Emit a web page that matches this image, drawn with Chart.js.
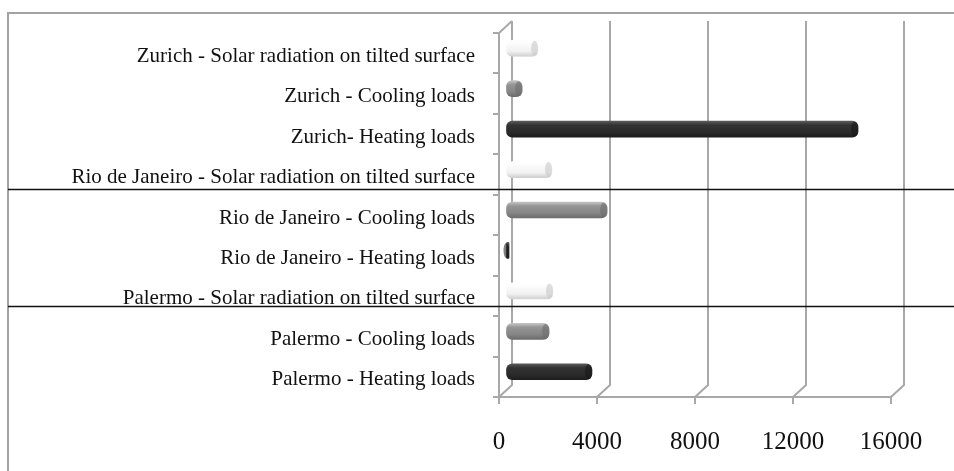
<!DOCTYPE html>
<html>
<head>
<meta charset="utf-8">
<script src="https://cdn.jsdelivr.net/npm/chart.js@4.4.0/dist/chart.umd.min.js"></script>
<style>
  html, body { margin: 0; padding: 0; background: #fff; }
  #wrap { width: 954px; height: 471px; position: relative; }
</style>
</head>
<body>
<div id="wrap"><canvas id="c" width="954" height="471"></canvas></div>
<script>
// Cities, listed top to bottom as they appear on the chart
const cities = ['Zurich', 'Rio de Janeiro', 'Palermo'];

// One label per bar, top to bottom
const categoryLabels = [
  'Zurich - Solar radiation on tilted surface',
  'Zurich - Cooling loads',
  'Zurich- Heating loads',
  'Rio de Janeiro - Solar radiation on tilted surface',
  'Rio de Janeiro - Cooling loads',
  'Rio de Janeiro - Heating loads',
  'Palermo - Solar radiation on tilted surface',
  'Palermo - Cooling loads',
  'Palermo - Heating loads'
];

// Yearly values per city (same order as cities)
const solarTilted  = [1330, 1900, 1940];
const coolingLoads = [680, 4150, 1780];
const heatingLoads = [14390, 145, 3530];

// Value axis ticks
const xTicks = [0, 4000, 8000, 12000, 16000];

// Build the bar list: for each city, solar / cooling / heating
const values = [];
const kinds = [];
cities.forEach((c, i) => {
  values.push(solarTilted[i]);  kinds.push('solar');
  values.push(coolingLoads[i]); kinds.push('cooling');
  values.push(heatingLoads[i]); kinds.push('heating');
});

const SERIF = '"Liberation Serif", "Times New Roman", serif';
const AXIS_GREY = '#a8a8a8';
const DEPTH_X = 13, DEPTH_Y = -12;   // back wall offset
const BAR_T = 16;                    // cylinder thickness

const shades = {
  heating: { stops: ['#5a5a5a', '#333333', '#2a2a2a', '#1d1d1d'], cap: '#161616', edge: null },
  cooling: { stops: ['#c4c4c4', '#959595', '#858585', '#6c6c6c'], cap: '#6a6a6a', edge: null },
  solar:   { stops: ['#ffffff', '#fbfbfb', '#f1f1f1', '#cfcfcf'], cap: '#c4c4c4', edge: '#d6d6d6' }
};

function barFill(ctx) {
  const chart = ctx.chart;
  const ys = chart.scales && chart.scales.y;
  const kind = kinds[ctx.dataIndex] || 'solar';
  const s = shades[kind];
  if (!ys || ctx.dataIndex == null) return s.stops[1];
  const yc = ys.getPixelForValue(ctx.dataIndex);
  if (!isFinite(yc)) return s.stops[1];
  const g = chart.ctx.createLinearGradient(0, yc - BAR_T / 2, 0, yc + BAR_T / 2);
  g.addColorStop(0, s.stops[0]);
  g.addColorStop(0.25, s.stops[1]);
  g.addColorStop(0.7, s.stops[2]);
  g.addColorStop(1, s.stops[3]);
  return g;
}

// Frame around the figure
const framePlugin = {
  id: 'frame',
  beforeDraw(chart) {
    const c = chart.ctx;
    c.save();
    c.strokeStyle = '#a3a3a3';
    c.lineWidth = 2;
    c.beginPath();
    c.moveTo(8, chart.height + 2);
    c.lineTo(8, 13);
    c.lineTo(chart.width + 2, 13);
    c.stroke();
    c.restore();
  }
};

// Back wall gridlines of the 3-D plot, and the half-depth shift of the cylinders
const wallPlugin = {
  id: 'wall3d',
  beforeDatasetsDraw(chart) {
    const c = chart.ctx;
    const xs = chart.scales.x;
    const a = chart.chartArea;
    c.save();
    c.strokeStyle = AXIS_GREY;
    c.lineWidth = 2;
    c.beginPath();
    xTicks.forEach(v => {
      const x = xs.getPixelForValue(v);
      c.moveTo(x + DEPTH_X, a.top + DEPTH_Y);
      c.lineTo(x + DEPTH_X, a.bottom + DEPTH_Y);
      c.lineTo(x, a.bottom);
    });
    // top-left corner joining the front axis to the back wall
    c.moveTo(a.left, a.top);
    c.lineTo(a.left + DEPTH_X, a.top + DEPTH_Y);
    c.stroke();
    c.restore();

    c.save();
    c.translate(DEPTH_X / 2, DEPTH_Y / 2 + 1);
  },
  afterDatasetsDraw(chart) {
    const c = chart.ctx;
    const meta = chart.getDatasetMeta(0);
    meta.data.forEach((el, i) => {
      const p = el.getProps(['x', 'y', 'base', 'height'], true);
      const s = shades[kinds[i]];
      const len = Math.abs(p.x - p.base);
      const rx = Math.min(3.5, len / 2 + 1.5);
      const ry = p.height / 2;
      if (s.edge && len > 8) {
        c.save();
        c.strokeStyle = s.edge;
        c.lineWidth = 1;
        c.beginPath();
        c.moveTo(p.base + 4, p.y + ry - 0.5);
        c.lineTo(p.x - rx, p.y + ry - 0.5);
        c.stroke();
        c.restore();
      }
      c.beginPath();
      c.ellipse(p.x - rx, p.y, rx, ry - 0.5, 0, 0, Math.PI * 2);
      c.fillStyle = s.cap;
      c.globalAlpha = 0.55;
      c.fill();
      c.globalAlpha = 1;
    });
    c.restore();
  },
  afterDraw(chart) {
    // city separators
    const c = chart.ctx;
    const ys = chart.scales.y;
    const seps = [3 + 0.36, 6 + 0.25];
    c.save();
    c.strokeStyle = '#111';
    c.lineWidth = 1.6;
    c.beginPath();
    seps.forEach(v => {
      const y = Math.round(ys.getPixelForValue(v)) + 0.5;
      c.moveTo(8, y);
      c.lineTo(chart.width, y);
    });
    c.stroke();
    c.restore();
  }
};

new Chart(document.getElementById('c'), {
  type: 'bar',
  data: {
    labels: categoryLabels,
    datasets: [{
      data: values,
      backgroundColor: barFill,
      borderWidth: 0,
      borderRadius: 6,
      borderSkipped: false,
      barThickness: BAR_T,
      clip: false
    }]
  },
  options: {
    indexAxis: 'y',
    responsive: false,
    devicePixelRatio: 1,
    animation: false,
    layout: { padding: { left: 0, right: 63, top: 33, bottom: 0 } },
    plugins: { legend: { display: false }, tooltip: { enabled: false } },
    scales: {
      x: {
        type: 'linear',
        min: 0,
        max: 16000,
        afterBuildTicks(s) { s.ticks = xTicks.map(v => ({ value: v })); },
        ticks: {
          font: { family: SERIF, size: 25 },
          color: '#111',
          padding: 23,
          maxRotation: 0,
          callback: v => String(v)
        },
        grid: { drawOnChartArea: false, drawTicks: true, tickLength: 7, color: AXIS_GREY, lineWidth: 2 },
        border: { display: true, color: AXIS_GREY, width: 2 },
        afterFit(s) { s.height = 74; }
      },
      y: {
        ticks: {
          font: { family: SERIF, size: 21 },
          color: '#111',
          padding: 18,
          labelOffset: 3,
          autoSkip: false
        },
        grid: { drawOnChartArea: false, drawTicks: true, tickLength: 6, color: AXIS_GREY, lineWidth: 2, offset: true },
        border: { display: true, color: AXIS_GREY, width: 2 },
        afterFit(s) { s.width = 499; }
      }
    }
  },
  plugins: [framePlugin, wallPlugin]
});
</script>
</body>
</html>
